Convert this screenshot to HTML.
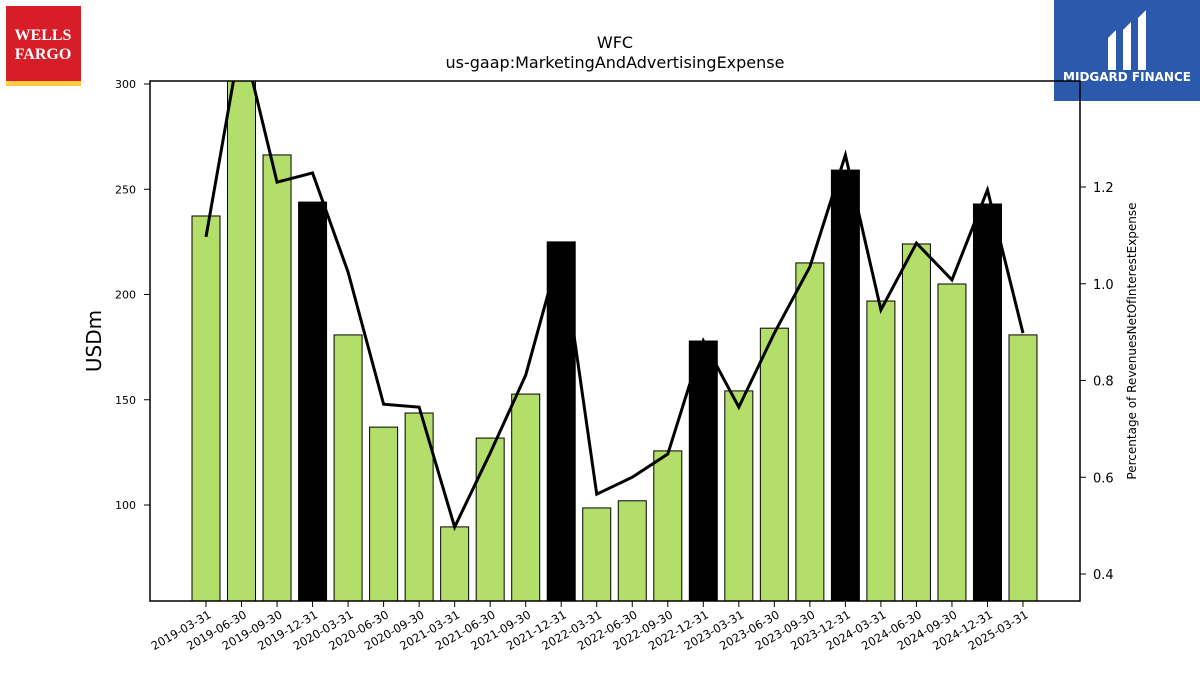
<!DOCTYPE html>
<html><head><meta charset="utf-8"><style>
body{margin:0;background:#fff;width:1200px;height:675px;overflow:hidden;font-family:"Liberation Sans","DejaVu Sans",sans-serif}
</style></head><body>
<svg id="chart" width="1200" height="675" xmlns="http://www.w3.org/2000/svg" font-family="DejaVu Sans, Liberation Sans, sans-serif">
<g>
<rect x="6" y="6" width="75" height="76" fill="#d71e28"/>
<rect x="6" y="81" width="75" height="5" fill="#ffcd41"/>
<text x="43" y="40" font-family="Liberation Serif,serif" font-weight="bold" font-size="16" fill="#fff" text-anchor="middle">WELLS</text>
<text x="43" y="59" font-family="Liberation Serif,serif" font-weight="bold" font-size="16" fill="#fff" text-anchor="middle">FARGO</text>
</g>
<g>
<rect x="1054" y="0" width="146" height="101" fill="#2b5aad"/>
<path d="M1108 38 L1116 30 L1116 70 L1108 70 Z M1123 30 L1131 22 L1131 70 L1123 70 Z M1138 18 L1146 10 L1146 70 L1138 70 Z" fill="#fff"/>
<text x="1127" y="81" font-size="12" font-weight="bold" fill="#fff" text-anchor="middle">MIDGARD FINANCE</text>
</g>
<text x="615" y="48" font-size="16" text-anchor="middle">WFC</text>
<text x="615" y="68" font-size="16" text-anchor="middle">us-gaap:MarketingAndAdvertisingExpense</text>
<defs><clipPath id="pc"><rect x="150" y="81" width="930" height="520"/></clipPath></defs>
<g id="bars" clip-path="url(#pc)"></g>
<g id="line" clip-path="url(#pc)"></g>
<rect x="150" y="81" width="930" height="520" fill="none" stroke="#000" stroke-width="1.5"/>
<g id="axes"></g>
<text transform="translate(101,341) rotate(-90)" font-size="20" text-anchor="middle">USDm</text>
<text transform="translate(1136,341) rotate(-90)" font-size="12" text-anchor="middle">Percentage of RevenuesNetOfInterestExpense</text>
</svg>
<script>
const categories=["2019-03-31","2019-06-30","2019-09-30","2019-12-31","2020-03-31","2020-06-30","2020-09-30","2021-03-31","2021-06-30","2021-09-30","2021-12-31","2022-03-31","2022-06-30","2022-09-30","2022-12-31","2023-03-31","2023-06-30","2023-09-30","2023-12-31","2024-03-31","2024-06-30","2024-09-30","2024-12-31","2025-03-31"];
const expense=[237.3,305,266.3,243.9,180.8,137,143.7,89.6,131.8,152.7,225,98.6,102,125.7,177.9,154.2,184,215,259.1,196.9,224,205,243,180.8];
const pct=[1.097,1.514,1.210,1.229,1.024,0.751,0.745,0.497,0.650,0.811,1.078,0.565,0.600,0.648,0.882,0.745,0.898,1.035,1.266,0.946,1.084,1.008,1.194,0.898];
const leftTicks=[100,150,200,250,300];
const rightTicks=[0.4,0.6,0.8,1.0,1.2];
const NS="http://www.w3.org/2000/svg";
const x=i=>206+i*(1023-206)/(categories.length-1);
const y=v=>84+(300-v)*2.105;
const y2=v=>187+(1.2-v)*483.75;
function mk(t,a,p){const e=document.createElementNS(NS,t);for(const k in a)e.setAttribute(k,a[k]);(p||document.getElementById('chart')).appendChild(e);return e;}
const bars=document.getElementById('bars'),line=document.getElementById('line'),axes=document.getElementById('axes');
expense.forEach((v,i)=>{const q4=categories[i].endsWith('12-31');
const r=mk('rect',{x:x(i)-14,y:y(v),width:28,height:601-y(v),fill:q4?'#000':'#b3de69',stroke:'#000','stroke-width':1},bars);

});
const pl=mk('polyline',{points:pct.map((v,i)=>x(i)+','+y2(v)).join(' '),fill:'none',stroke:'#000','stroke-width':3},line);


leftTicks.forEach(t=>{mk('line',{x1:144,x2:150,y1:y(t),y2:y(t),stroke:'#000'},axes);
const l=mk('text',{x:136,y:y(t)+4,'font-size':11,'text-anchor':'end'},axes);l.textContent=t;

});
rightTicks.forEach(t=>{mk('line',{x1:1080,x2:1086,y1:y2(t),y2:y2(t),stroke:'#000'},axes);
const l=mk('text',{x:1093,y:y2(t)+5,'font-size':13},axes);l.textContent=t.toFixed(1);

});
categories.forEach((c,i)=>{mk('line',{x1:x(i),x2:x(i),y1:601,y2:607,stroke:'#000'},axes);
const l=mk('text',{transform:`translate(${x(i)+6},${617}) rotate(-30)`,'font-size':11.5,'text-anchor':'end'},axes);l.textContent=c;

});
</script>
</body></html>
